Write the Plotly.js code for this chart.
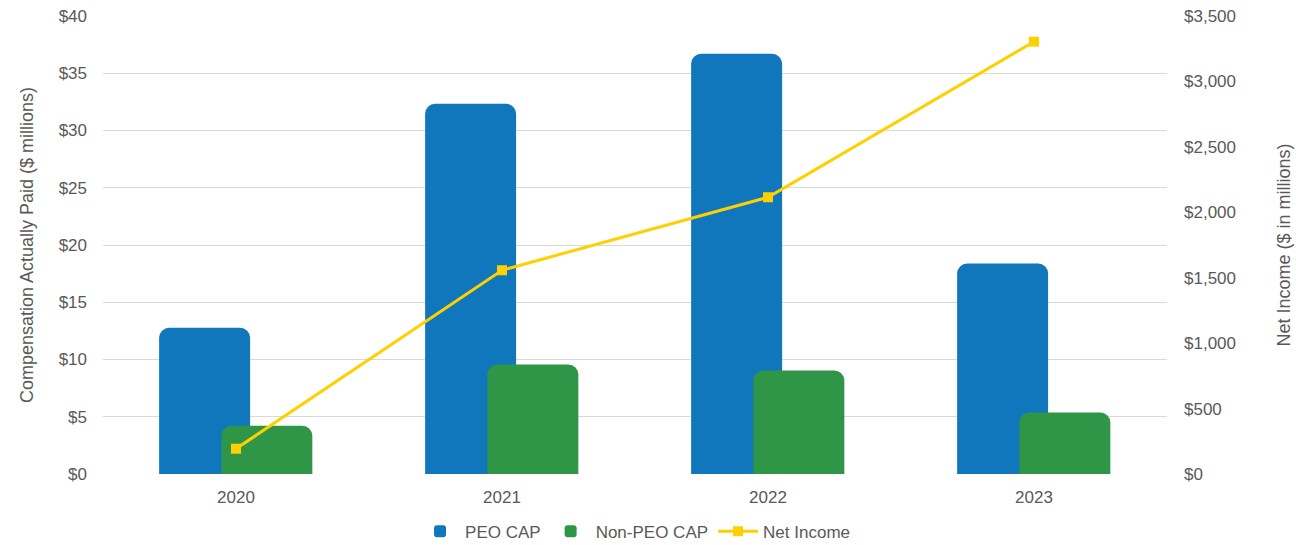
<!DOCTYPE html>
<html>
<head>
<meta charset="utf-8">
<script src="https://cdn.plot.ly/plotly-3.0.1.min.js"></script>
<style>html,body{margin:0;padding:0;background:#fff;}#chart{width:1296px;height:545px;}</style>
</head>
<body>
<div id="chart"></div>
<script>
const years = ["2020", "2021", "2022", "2023"];
const peoCap = [12.77, 32.33, 36.7, 18.38];
const nonPeoCap = [4.21, 9.56, 9.04, 5.37];
const netIncome = [193, 1557, 2115, 3304];

const font = {family: "Liberation Sans, Arial, sans-serif", color: "#595959"};

const traces = [
  {
    type: "bar", name: "PEO CAP", x: years, y: peoCap,
    marker: {color: "#1077BD", cornerradius: 10},
    offset: -0.289, width: 0.342, hoverinfo: "y"
  },
  {
    type: "bar", name: "Non-PEO CAP", x: years, y: nonPeoCap,
    marker: {color: "#2E9646", cornerradius: 10},
    offset: -0.055, width: 0.342, hoverinfo: "y"
  },
  {
    type: "scatter", mode: "lines+markers", name: "Net Income", x: years, y: netIncome,
    yaxis: "y2",
    line: {color: "#FFD000", width: 3},
    marker: {color: "#FFD000", symbol: "square", size: 10}
  }
];

const layout = {
  width: 1296, height: 545,
  margin: {l: 103, r: 129, t: 16, b: 71},
  paper_bgcolor: "#fff", plot_bgcolor: "#fff",
  font: Object.assign({size: 17}, font),
  barmode: "overlay",
  showlegend: true,
  legend: {orientation: "h", x: 0.49, xanchor: "center", xref: "container",
           y: 0.0244, yanchor: "middle", yref: "container",
           font: Object.assign({size: 17}, font), traceorder: "normal", itemwidth: 40},
  xaxis: {
    type: "category", showgrid: false, zeroline: false, showline: false,
    tickfont: Object.assign({size: 17}, font), ticks: "", ticklen: 0, ticklabelstandoff: 11
  },
  yaxis: {
    range: [0, 40], dtick: 5, tickprefix: "$",
    gridcolor: "#d9d9d9", gridwidth: 1, zeroline: false, showline: false,
    tickfont: Object.assign({size: 17}, font),
    ticks: "", ticklabelstandoff: 15,
    title: {text: "Compensation Actually Paid ($ millions)", font: Object.assign({size: 18}, font), standoff: 20}
  },
  yaxis2: {
    overlaying: "y", side: "right",
    range: [0, 3500], dtick: 500, tickprefix: "$", tickformat: ",",
    showgrid: false, zeroline: false, showline: false,
    tickfont: Object.assign({size: 17}, font),
    ticks: "", ticklabelstandoff: 16,
    title: {text: "Net Income ($ in millions)", font: Object.assign({size: 18}, font), standoff: 42}
  }
};

Plotly.newPlot("chart", traces, layout, {displayModeBar: false, staticPlot: true});
</script>
</body>
</html>
